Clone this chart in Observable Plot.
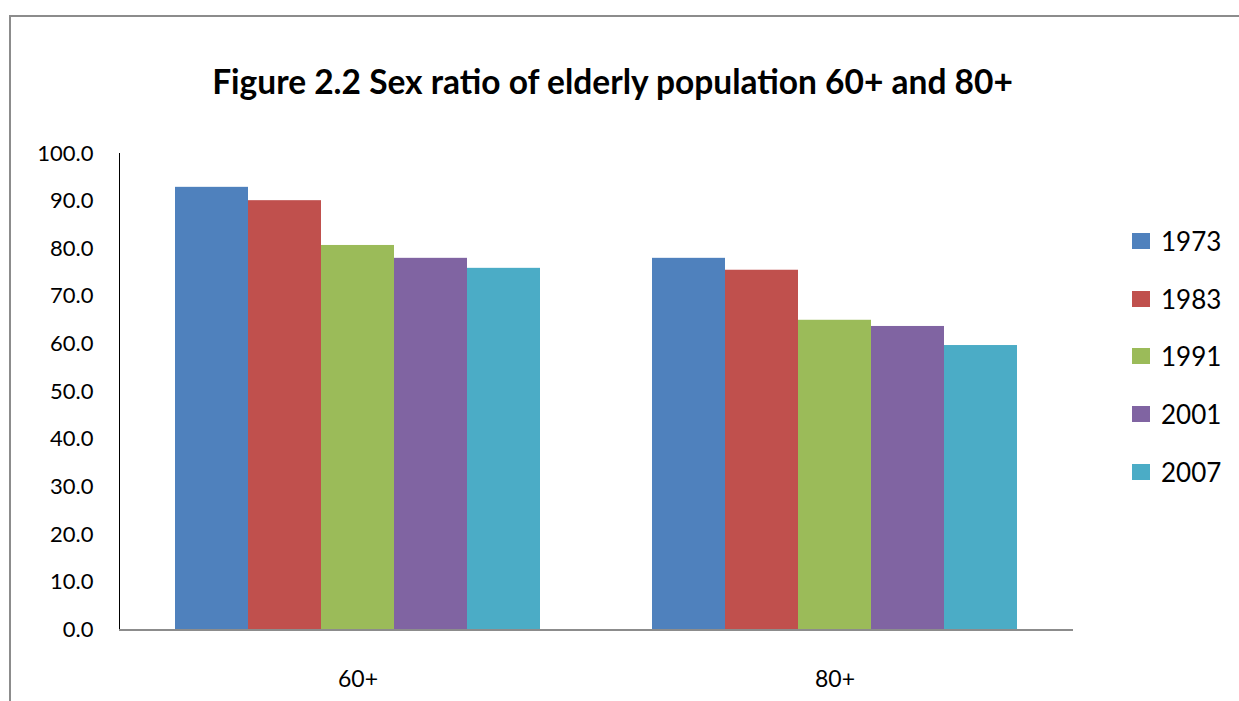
<!DOCTYPE html>
<html>
<head>
<meta charset="utf-8">
<script src="https://cdn.jsdelivr.net/npm/d3@7"></script>
<script src="https://cdn.jsdelivr.net/npm/@observablehq/plot@0.6"></script>
<style>
  html, body { margin: 0; padding: 0; background: #fff; }
  #wrap { position: relative; width: 1239px; height: 701px; overflow: hidden; font-family: Lato, "Open Sans", sans-serif; }
  #border { position: absolute; left: 9px; top: 15px; width: 1300px; height: 800px; border-left: 2px solid #8c8c8c; border-top: 2px solid #8c8c8c; }
  #title { position: absolute; left: 0; top: 65px; width: 1225px; text-align: center; font-weight: bold; font-size: 33.5px; line-height: 33px; letter-spacing: 0; color: #000; }
  #chart { position: absolute; left: 0; top: 120px; }
  #legend { position: absolute; left: 1132px; top: 212px; }
  .item { display: flex; align-items: center; height: 57.75px; }
  .sw { width: 18px; height: 16px; margin-right: 11px; }
  .lb { font-size: 26px; color: #000; }
  #chart svg [aria-label="fx-axis tick label"] { font-size: 23px; }
</style>
</head>
<body>
<div id="wrap">
  <div id="border"></div>
  <div id="title">Figure 2.2 Sex ratio of elderly population 60+ and 80+</div>
  <div id="chart"></div>
  <div id="legend"></div>
</div>
<script>
const groups = ["60+", "80+"];
const years = ["1973", "1983", "1991", "2001", "2007"];
const colors = ["#4F81BD", "#C0504D", "#9BBB59", "#8064A2", "#4BACC6"];
const values60 = [92.9, 90.1, 80.7, 78.0, 75.9];
const values80 = [78.0, 75.5, 65.0, 63.7, 59.7];
const yTicks = [0, 10, 20, 30, 40, 50, 60, 70, 80, 90, 100];

const data = [];
years.forEach((y, i) => {
  data.push({group: groups[0], year: y, value: values60[i]});
  data.push({group: groups[1], year: y, value: values80[i]});
});

const chart = Plot.plot({
  width: 1239,
  height: 581,
  marginTop: 33,
  marginBottom: 71.5,
  marginLeft: 118,
  marginRight: 166,
  style: {fontFamily: "Lato, 'Open Sans', sans-serif", fontSize: "22px", color: "#000", background: "transparent"},
  fx: {domain: groups, padding: 0, label: null, axis: "bottom", tickSize: 0, tickPadding: 41},
  x: {domain: years, paddingInner: 0, paddingOuter: 0.744, axis: null},
  y: {domain: [0, 100], label: null, ticks: yTicks, tickFormat: d3.format(".1f"), tickSize: 0, tickPadding: 26, line: true},
  color: {domain: years, range: colors},
  marks: [
    Plot.barY(data, {fx: "group", x: "year", y: "value", fill: "year", inset: 0}),
    Plot.ruleY([0], {stroke: "#8c8c8c", strokeWidth: 2})
  ]
});
document.getElementById("chart").appendChild(chart);
chart.querySelectorAll('[aria-label="y-axis line"], [aria-label="y-axis tick"]').forEach(el => {
  el.setAttribute("stroke", "#8c8c8c");
  el.setAttribute("stroke-width", "1.5");
});

const legend = document.getElementById("legend");
years.forEach((y, i) => {
  const row = document.createElement("div");
  row.className = "item";
  const sw = document.createElement("div");
  sw.className = "sw";
  sw.style.background = colors[i];
  const lb = document.createElement("div");
  lb.className = "lb";
  lb.textContent = y;
  row.appendChild(sw);
  row.appendChild(lb);
  legend.appendChild(row);
});
</script>
</body>
</html>
